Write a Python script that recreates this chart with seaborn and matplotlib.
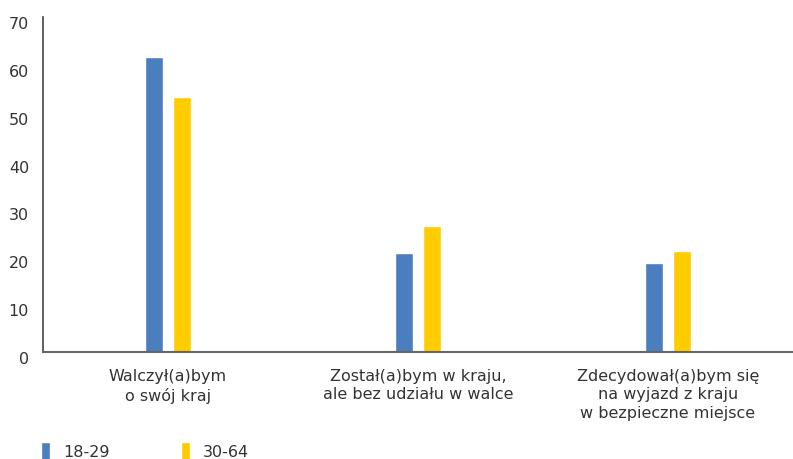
import pandas as pd
import numpy as np
import seaborn as sns
import matplotlib.pyplot as plt

categories = ["Walczył(a)bym\no swój kraj",
              "Został(a)bym w kraju,\nale bez udziału w walce",
              "Zdecydował(a)bym się\nna wyjazd z kraju\nw bezpieczne miejsce"]
groups = ["18-29", "30-64"]
young = [61.7, 20.7, 18.7]
older = [53.3, 26.4, 21.2]
colors = ["#4A7EBF", "#FFCC00"]

df = pd.DataFrame({
    "kat": categories * 2,
    "grupa": [groups[0]] * 3 + [groups[1]] * 3,
    "val": young + older,
})

sns.set_style("white")
plt.rcParams['font.family'] = ['DejaVu Sans']

fig = plt.figure(figsize=(7.93, 4.59), dpi=100)
ax = fig.add_axes([43 / 793, 1 - 352 / 459, 1 - 43 / 793, (352 - 17) / 459])

sns.barplot(data=df, x="kat", y="val", hue="grupa", palette=colors,
            width=0.225, gap=0.38, ax=ax, saturation=1)

ax.set_ylim(0, 70)
ax.set_yticks(range(0, 71, 10))
ax.set_xlabel("")
ax.set_ylabel("")
txt = "#333333"
ax.tick_params(axis="y", length=0, labelsize=11.5, labelcolor=txt, pad=10)
ax.tick_params(axis="x", length=0, labelsize=11.5, labelcolor=txt, pad=12)
for lab in ax.get_yticklabels():
    lab.set_verticalalignment("top")
for lab in ax.get_xticklabels():
    lab.set_linespacing(1.3)
for s in ["top", "right"]:
    ax.spines[s].set_visible(False)
ax.spines["left"].set_color("#444444")
ax.spines["bottom"].set_color("#666666")
ax.spines["left"].set_linewidth(1.2)
ax.spines["bottom"].set_linewidth(1.5)

h, l = ax.get_legend_handles_labels()
ax.legend(h, l, loc="lower left", bbox_to_anchor=(27 / 793, -0.035),
          bbox_transform=fig.transFigure, ncol=2, frameon=False,
          handlelength=0.55, handleheight=1.4, handletextpad=0.8,
          columnspacing=4.5, fontsize=11.5, labelcolor=txt)

fig.savefig("out.png", dpi=100)
